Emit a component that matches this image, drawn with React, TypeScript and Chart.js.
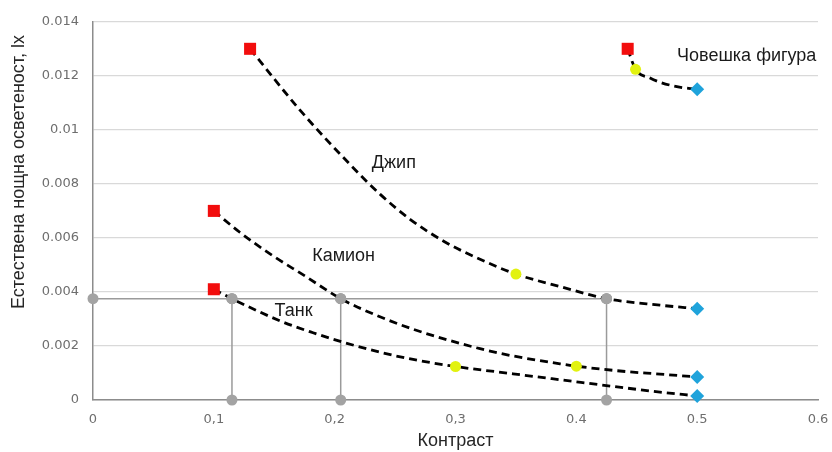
import React, { useEffect, useRef } from "react";
import { Chart, registerables } from "chart.js";

Chart.register(...registerables);

// Data
const xTickLabels = ["0", "0,1", "0,2", "0,3", "0.4", "0.5", "0.6"];
const yTickLabels = ["0", "0.002", "0.004", "0.006", "0.008", "0.01", "0.012", "0.014"];

// kinds: r = red square, g = gray circle, y = yellow circle, b = blue diamond, n = no marker (curve vertex)
const tankX = [0.1, 0.115, 0.1548, 0.1821, 0.2061, 0.2375, 0.2649, 0.3, 0.3476, 0.3865, 0.4419, 0.4692, 0.5];
const tankY = [0.0041, 0.00375, 0.00293, 0.00249, 0.00215, 0.00177, 0.0015, 0.00124, 0.00097, 0.00075, 0.00044, 0.00029, 0.00015];
const tankKinds = ["r", "g", "n", "n", "n", "n", "n", "y", "n", "n", "n", "n", "b"];

const kamionX = [0.1, 0.1217, 0.1481, 0.1755, 0.205, 0.2375, 0.2649, 0.293, 0.3203, 0.3476, 0.3865, 0.4, 0.4419, 0.4692, 0.5];
const kamionY = [0.007, 0.0062, 0.00536, 0.00459, 0.00375, 0.00308, 0.00262, 0.00223, 0.0019, 0.00163, 0.00134, 0.00125, 0.00105, 0.00096, 0.00085];
const kamionKinds = ["r", "n", "n", "n", "g", "n", "n", "n", "n", "n", "n", "y", "n", "n", "b"];

const dzhipX = [0.13, 0.1713, 0.2127, 0.2375, 0.2624, 0.2913, 0.3203, 0.35, 0.3865, 0.425, 0.4692, 0.5];
const dzhipY = [0.013, 0.01073, 0.00872, 0.00762, 0.00669, 0.00585, 0.00521, 0.00466, 0.0042, 0.00375, 0.00351, 0.00338];
const dzhipKinds = ["r", "n", "n", "n", "n", "n", "n", "y", "n", "g", "n", "b"];

const chovekX = [0.4425, 0.449, 0.461, 0.4694, 0.4832, 0.5];
const chovekY = [0.013, 0.01224, 0.01192, 0.01176, 0.0116, 0.0115];
const chovekKinds = ["r", "y", "n", "n", "n", "b"];

const refLevel = 0.00375;
const refXs = [0, 0.115, 0.205, 0.425];

const labelTexts = ["Джип", "Камион", "Танк", "Човешка фигура"];
const labelX = [0.249, 0.2074, 0.166, 0.541];
const labelY = [0.00877, 0.00534, 0.00329, 0.01272];

const xTitle = "Контраст";
const yTitle = "Естествена нощна осветеност, lx";

const kindColor: Record<string, string> = {
  r: "#f20d0d",
  g: "#a3a3a3",
  y: "#e2f20f",
  b: "#1fa3db",
  n: "rgba(0,0,0,0)",
};
const kindStyle: Record<string, string> = {
  r: "rect",
  g: "circle",
  y: "circle",
  b: "rectRot",
  n: "circle",
};
const kindRadius: Record<string, number> = { r: 8.5, g: 5.5, y: 5.5, b: 7, n: 0 };

function curve(xs: number[], ys: number[], kinds: string[]) {
  return {
    data: xs.map((x, i) => ({ x, y: ys[i] })),
    borderColor: "#000000",
    borderWidth: 2.8,
    borderDash: [8, 5],
    showLine: true,
    cubicInterpolationMode: "monotone" as const,
    pointStyle: kinds.map((k) => kindStyle[k]),
    pointRadius: kinds.map((k) => kindRadius[k]),
    pointBackgroundColor: kinds.map((k) => kindColor[k]),
    pointBorderColor: kinds.map((k) => kindColor[k]),
    pointBorderWidth: 0,
    clip: false as const,
    order: 1,
  };
}

const grayLine = {
  borderColor: "#9a9a9a",
  borderWidth: 1.5,
  showLine: true,
  pointStyle: "circle" as const,
  pointRadius: 5.5,
  pointBackgroundColor: "#a3a3a3",
  pointBorderWidth: 0,
  clip: false as const,
  order: 2,
};

const labelsPlugin = {
  id: "labelsPlugin",
  afterDatasetsDraw(chart: any) {
    const { ctx, scales } = chart;
    ctx.save();
    ctx.fillStyle = "#1a1a1a";
    ctx.font = "18px 'Liberation Sans', Arial, sans-serif";
    ctx.textAlign = "center";
    ctx.textBaseline = "middle";
    labelTexts.forEach((t, i) => {
      ctx.fillText(t, scales.x.getPixelForValue(labelX[i]), scales.y.getPixelForValue(labelY[i]));
    });
    ctx.translate(19, 172);
    ctx.rotate(-Math.PI / 2);
    ctx.fillStyle = "#262626";
    ctx.font = "18px 'Liberation Sans', Arial, sans-serif";
    ctx.fillText(yTitle, 0, 0);
    ctx.restore();
  },
};

export default function App() {
  const ref = useRef<HTMLCanvasElement>(null);
  useEffect(() => {
    if (!ref.current) return;
    const datasets: any[] = [
      curve(tankX, tankY, tankKinds),
      curve(kamionX, kamionY, kamionKinds),
      curve(dzhipX, dzhipY, dzhipKinds),
      curve(chovekX, chovekY, chovekKinds),
      { ...grayLine, data: refXs.map((x) => ({ x, y: refLevel })) },
      ...refXs.slice(1).map((x) => ({
        ...grayLine,
        data: [
          { x, y: 0 },
          { x, y: refLevel },
        ],
      })),
    ];
    const chart = new Chart(ref.current, {
      type: "scatter",
      data: { datasets },
      plugins: [labelsPlugin],
      options: {
        animation: false,
        responsive: false,
        layout: { padding: { top: 17, right: 0, left: 0, bottom: 0 } },
        plugins: { legend: { display: false }, tooltip: { enabled: false } },
        scales: {
          x: {
            type: "linear",
            min: 0,
            max: 0.6,
            afterFit: (s: any) => {
              s.height = 52;
              s.paddingRight = 14;
              s.paddingLeft = 0;
            },
            ticks: {
              stepSize: 0.1,
              padding: 12,
              color: "#6e6e6e",
              font: { family: "'DejaVu Sans'", size: 13 },
              callback: (_v: any, i: number) => xTickLabels[i],
            },
            grid: { display: false, drawTicks: false },
            border: { display: true, color: "#8c8c8c", width: 1.5 },
            title: {
              display: true,
              text: xTitle,
              color: "#262626",
              font: { family: "'Liberation Sans'", size: 18 },
              padding: { top: 0, bottom: 0 },
            },
          },
          y: {
            type: "linear",
            min: 0,
            max: 0.014,
            afterFit: (s: any) => {
              s.width = 93;
            },
            ticks: {
              stepSize: 0.002,
              padding: 14,
              color: "#6e6e6e",
              font: { family: "'DejaVu Sans'", size: 13 },
              callback: (_v: any, i: number) => yTickLabels[i],
            },
            grid: { color: "#d9d9d9", lineWidth: 1.2, drawTicks: false },
            border: { display: true, color: "#8c8c8c", width: 1.5 },
          },
        },
      },
    });
    return () => chart.destroy();
  }, []);
  return (
    <div style={{ position: "fixed", left: 0, top: 0, width: 832, height: 452, background: "#ffffff" }}>
      <canvas ref={ref} width={832} height={452} />
    </div>
  );
}
